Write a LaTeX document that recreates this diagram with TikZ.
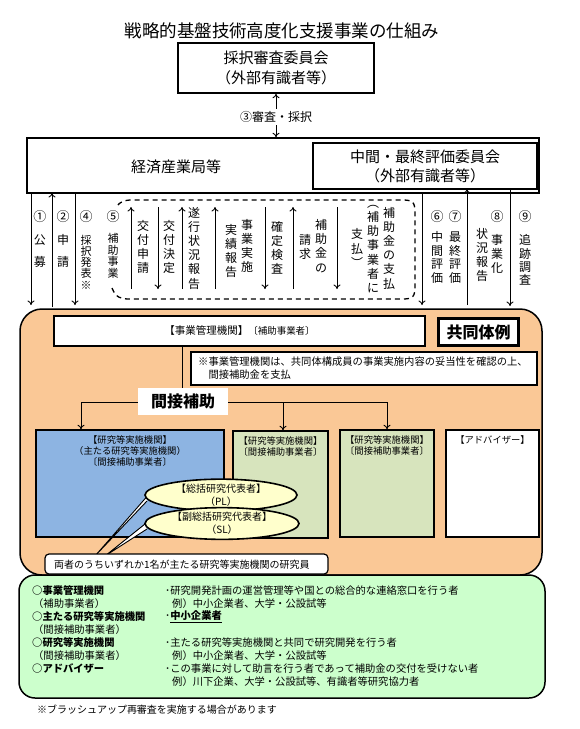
\documentclass[tikz,border=0pt]{standalone}
\usepackage{fontspec}
\setmainfont{Noto Sans CJK JP}
\usetikzlibrary{arrows.meta,shapes.geometric}
\definecolor{orangefill}{HTML}{FAC896}
\definecolor{bluefill}{HTML}{8DB4E2}
\definecolor{olivefill}{HTML}{D7E4BD}
\definecolor{mintfill}{HTML}{CCFFCC}
\definecolor{yellowfill}{HTML}{FFFFCC}
\newcommand{\fs}[2]{\fontsize{#1}{#2}\selectfont}
\begin{document}
\begin{tikzpicture}[x=1pt,y=-1pt,
  box/.style={draw, line width=1.5pt, inner sep=0pt},
  arr/.style={line width=0.9pt, -{To[length=4.5pt,width=7pt]}},
  arrboth/.style={line width=0.9pt, {To[length=4.5pt,width=7pt]}-{To[length=4.5pt,width=7pt]}},
  vcol/.style={align=center, inner sep=0pt, font=\fs{12}{14.2}},
  vnum/.style={inner sep=0pt, font=\fs{13}{13}},
  gl/.style={anchor=west, inner sep=0pt, font=\fs{10.3}{12}},
  rbox/.style={draw, line width=1.5pt, inner sep=0pt, minimum height=107, text depth=0pt},
  rtext/.style={align=center, inner sep=0pt, font=\fs{9.3}{11}}]
\useasboundingbox (0,0) rectangle (579,729);

% title and top boxes
\node[font=\fs{17.5}{20}] (title) at (282,31) {戦略的基盤技術高度化支援事業の仕組み};
\node[box, minimum width=196, minimum height=50, align=center, font=\fs{15}{20}] (saitaku) at (276,68) {採択審査委員会\\（外部有識者等）};
\node[box, minimum width=512, minimum height=55] (keisan) at (283,165.5) {};
\node[font=\fs{15}{18}] (keisantext) at (176,167) {経済産業局等};
\node[box, fill=white, minimum width=224, minimum height=46, align=center, font=\fs{15}{19}] (chukan) at (425,166) {中間・最終評価委員会\\（外部有識者等）};
\draw[arrboth] (saitaku.south) -- (saitaku.south |- keisan.north);
\node[fill=white, font=\fs{12}{14}, inner sep=2pt] (shinsa) at (276,117) {③審査・採択};

% arrows between keisan and consortium
\foreach \x in {31,75,422} \draw[arr] (\x,193) -- (\x,305);
\draw[arr] (52,307) -- (52,193);
\draw[arr] (467,305) -- (467,189);
\draw[arr] (510,189) -- (510,306);
\foreach \x in {131,182,215,293} \draw[arr] (\x,289) -- (\x,207);
\foreach \x in {158,265,337} \draw[arr] (\x,207) -- (\x,289);

% dashed bracket region
\draw[line width=1.3pt, dash pattern=on 5pt off 4pt]
  (112,288) .. controls (116,298) and (121,299) .. (130,299) -- (402,299)
  .. controls (413,299) and (415,297) .. (415,286) -- (415,213)
  .. controls (415,202) and (413,200) .. (402,200) -- (132,200)
  .. controls (124,200) and (120,202) .. (117,206);

% vertical labels
\node[vnum] (n1) at (40,217) {①};
\node[vcol, font=\fs{12}{22}] (t1) at (40,251) {公\\募};
\node[vnum] (n2) at (63,217) {②};
\node[vcol, font=\fs{12}{22}] (t2) at (63,251) {申\\請};
\node[vnum] (n4) at (86,217) {④};
\node[vcol, font=\fs{11}{11.2}] (t4) at (86,262) {採\\択\\発\\表\\※};
\node[vnum] (n5) at (113,217) {⑤};
\node[vcol, font=\fs{11}{11.6}] (t5) at (113,256) {補\\助\\事\\業};
\node[vcol] (tA) at (143,247) {交\\付\\申\\請};
\node[vcol] (tB) at (169,247) {交\\付\\決\\定};
\node[vcol] (tC) at (194,248) {遂\\行\\状\\況\\報\\告};
\node[vcol] (tD1) at (247,246) {事\\業\\実\\施};
\node[vcol] (tD2) at (231,251) {実\\績\\報\\告};
\node[vcol] (tE) at (277,248) {確\\定\\検\\査};
\node[vcol] (tF1) at (321,246) {補\\助\\金\\の};
\node[vcol] (tF2) at (305,247) {請\\求};
\node[vcol] (tG1) at (389,248) {補\\助\\金\\の\\支\\払};
\node[vcol] (tG2) at (373,249) {︵\\補\\助\\事\\業\\者\\に};
\node[vcol] (tG3) at (357,248) {支\\払\\︶};
\node[vnum] (n6) at (437,217) {⑥};
\node[vcol, font=\fs{12}{13.7}] (t6) at (437,257.5) {中\\間\\評\\価};
\node[vnum] (n7) at (455,217) {⑦};
\node[vcol, font=\fs{12}{13.7}] (t7) at (455,257.5) {最\\終\\評\\価};
\node[vnum] (n8) at (497,217) {⑧};
\node[vcol] (t8a) at (497,254) {事\\業\\化};
\node[vcol] (t8b) at (482,255) {状\\況\\報\\告};
\node[vnum] (n9) at (525,217) {⑨};
\node[vcol, font=\fs{12}{13.4}] (t9) at (525,260) {追\\跡\\調\\査};

% consortium (orange)
\node[draw, fill=orangefill, line width=1.5pt, rounded corners=22, minimum width=522, minimum height=266] (kyodo) at (281,442) {};
\node[box, fill=white, minimum width=371, minimum height=30] (jigyo) at (239.5,331) {\fs{10.5}{12}【事業管理機関】{\fs{9.5}{12}〔補助事業者〕}};
\node[draw, fill=white, line width=2.6pt, minimum width=80, minimum height=27, inner sep=0pt, font=\fs{16}{18}\bfseries] (rei) at (478.5,332) {共同体例};
\node[box, fill=white, line width=1.3pt, minimum width=346, minimum height=33] (note) at (364,368.5) {};
\node[anchor=west, align=left, inner sep=0pt, font=\fs{10.3}{13}] (notetext) at (198,368.5) {※事業管理機関は、共同体構成員の事業実施内容の妥当性を確認の上、\\　間接補助金を支払};

% tree
\coordinate (jn) at (182,402);
\coordinate (a1) at (81,402);
\coordinate (a2) at (283,402);
\coordinate (a3) at (387,402);
\draw[line width=1pt] (jn |- jigyo.south) -- (jn);
\draw[line width=1pt] (a1) -- (a3);

% research boxes
\node[rbox, fill=bluefill, minimum width=188] (blue) at (130,483.5) {};
\node[rbox, fill=olivefill, minimum width=95] (green2) at (280.5,484.5) {};
\node[rbox, fill=olivefill, minimum width=94] (green3) at (387,483.5) {};
\node[rbox, fill=white, minimum width=93] (adv) at (492.5,483.5) {};
\draw[arr] (a1) -- (a1 |- blue.north);
\draw[arr] (a2) -- (a2 |- green2.north);
\draw[arr] (a3) -- (a3 |- green3.north);
\node[fill=white, minimum width=90, minimum height=27, inner sep=0pt, font=\fs{16}{18}\bfseries] (kansetsu) at (183,401.5) {間接補助};

\node[rtext, anchor=north] (bluetext) at (130,435.5) {【研究等実施機関】\\（主たる研究等実施機関）\\〔間接補助事業者〕};
\node[rtext, anchor=north] (g2text) at (280.5,436.5) {【研究等実施機関】\\〔間接補助事業者〕};
\node[rtext, anchor=north] (g3text) at (387,435.5) {【研究等実施機関】\\〔間接補助事業者〕};
\node[rtext, anchor=north] (advtext) at (492.5,435.5) {【アドバイザー】};

% callout tails
\draw[fill=white, line width=0.9pt] (150,493) -- (95,556) -- (147,501);
\draw[fill=white, line width=0.9pt] (150,520) -- (105,556) -- (147,529);
\node[draw, fill=yellowfill, ellipse, line width=1.6pt, minimum width=152, minimum height=26, inner sep=0pt, align=center, font=\fs{10}{13}] (pl) at (221,495) {【総括研究代表者】\\（PL）};
\node[draw, fill=yellowfill, ellipse, line width=1.6pt, minimum width=154, minimum height=27, inner sep=0pt, align=center, font=\fs{10}{13}] (sl) at (222,523.5) {【副総括研究代表者】\\（SL）};
\node[draw, fill=white, rounded corners=4, line width=1.2pt, minimum width=283, minimum height=20, inner sep=0pt] (ryosha) at (186.5,564) {};
\node[anchor=west, inner sep=0pt, font=\fs{10}{12}] (ryoshatext) at (54,564.5) {両者のうちいずれか1名が主たる研究等実施機関の研究員};

% legend (green)
\node[draw, fill=mintfill, line width=1.5pt, rounded corners=16, minimum width=526, minimum height=123] (legend) at (282,636.5) {};
\node[gl, font=\fs{10.3}{12}\bfseries] (l1) at (32,591) {○事業管理機関};
\node[gl] (l2) at (33,603.5) {（補助事業者）};
\node[gl, font=\fs{10.3}{12}\bfseries] (l3) at (32,617) {○主たる研究等実施機関};
\node[gl] (l4) at (33,630) {（間接補助事業者）};
\node[gl, font=\fs{10.3}{12}\bfseries] (l5) at (32,643) {○研究等実施機関};
\node[gl] (l6) at (33,656) {（間接補助事業者）};
\node[gl, font=\fs{10.3}{12}\bfseries] (l7) at (32,669) {○アドバイザー};
\node[gl] (r1) at (165,591) {･研究開発計画の運営管理等や国との総合的な連絡窓口を行う者};
\node[gl] (r2) at (172,603.5) {例）中小企業者、大学・公設試等};
\node[gl] (r3) at (165,617) {･{\bfseries\underline{中小企業者}}};
\node[gl] (r4) at (165,643) {･主たる研究等実施機関と共同で研究開発を行う者};
\node[gl] (r5) at (172,656) {例）中小企業者、大学・公設試等};
\node[gl] (r6) at (165,669) {･この事業に対して助言を行う者であって補助金の交付を受けない者};
\node[gl] (r7) at (172,682) {例）川下企業、大学・公設試等、有識者等研究協力者};

\node[anchor=west, inner sep=0pt, font=\fs{10}{12}] (foot) at (37,710) {※ブラッシュアップ再審査を実施する場合があります};
\end{tikzpicture}
\end{document}
